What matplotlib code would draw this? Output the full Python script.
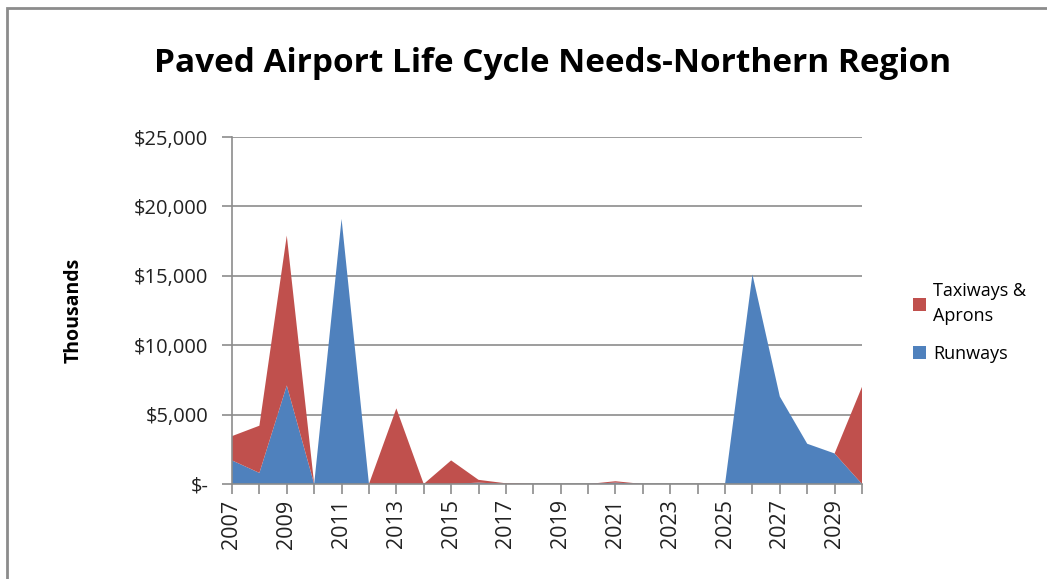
import numpy as np
import matplotlib.pyplot as plt
from matplotlib.patches import Rectangle
from matplotlib.ticker import FuncFormatter

years = list(range(2007, 2031))
runways = [1.7, 0.8, 7.1, 0, 19.1, 0, 0, 0, 0, 0.1, 0, 0, 0, 0, 0.1, 0, 0, 0, 0, 15.1, 6.3, 2.9, 2.2, 0]
taxiways = [1.75, 3.4, 10.8, 0, 0, 0, 5.45, 0, 1.7, 0.2, 0.05, 0, 0, 0, 0.1, 0, 0, 0, 0, 0, 0, 0, 0, 7.0]
series_names = ['Runways', 'Taxiways &\nAprons']
colors = ['#4F81BD', '#C0504D']

plt.rcParams['font.family'] = ['Open Sans', 'DejaVu Sans']

fig = plt.figure(figsize=(10.47, 5.79), dpi=100)
ax = fig.add_axes([232/1047, 1 - 484/579, 630/1047, 347/579])

x = np.array(years)
r = np.array(runways) * 1000
t = np.array(taxiways) * 1000
ax.stackplot(x, r, t, colors=colors, labels=series_names, linewidth=0)

ax.set_xlim(2007, 2030)
ax.set_ylim(0, 25000)
ax.set_yticks(np.arange(0, 25001, 5000))
ax.yaxis.set_major_formatter(FuncFormatter(lambda v, p: '$-' if v == 0 else '${:,.0f}'.format(v)))
ax.set_xticks(years)
ax.set_xticklabels([str(y) if (y - 2007) % 2 == 0 else '' for y in years], rotation=90)
ax.grid(axis='y', color='#8c8c8c', linewidth=1.2)
ax.set_axisbelow(True)
for s in ['top', 'right']:
    ax.spines[s].set_visible(False)
for s in ['left', 'bottom']:
    ax.spines[s].set_color('#8c8c8c')
    ax.spines[s].set_linewidth(1.2)
ax.tick_params(axis='both', color='#8c8c8c', length=7, width=1.2, labelsize=14.5, labelcolor='#222222')
ax.tick_params(axis='x', pad=4, labelsize=15.5)
ax.tick_params(axis='y', pad=10)
ax.set_ylabel('Thousands', fontsize=14, fontweight='bold', labelpad=36)

fig.text(553/1047, 1 - 64/579, 'Paved Airport Life Cycle Needs-Northern Region',
         ha='center', va='center', fontsize=24, fontweight='bold')

h, l = ax.get_legend_handles_labels()
leg = ax.legend(h[::-1], l[::-1], loc='center left', bbox_to_anchor=(1.055, 0.465), frameon=False,
                fontsize=13, handlelength=0.7, handleheight=0.7, handletextpad=0.4, labelspacing=1.1)
for txt in leg.get_texts():
    txt.set_linespacing(1.5)

fig.patches.append(Rectangle((7/1047, -0.1), 1.2, 1 - 8/579 + 0.1, transform=fig.transFigure,
                             fill=False, edgecolor='#8c8c8c', linewidth=2))

fig.savefig('out.png', dpi=100)
